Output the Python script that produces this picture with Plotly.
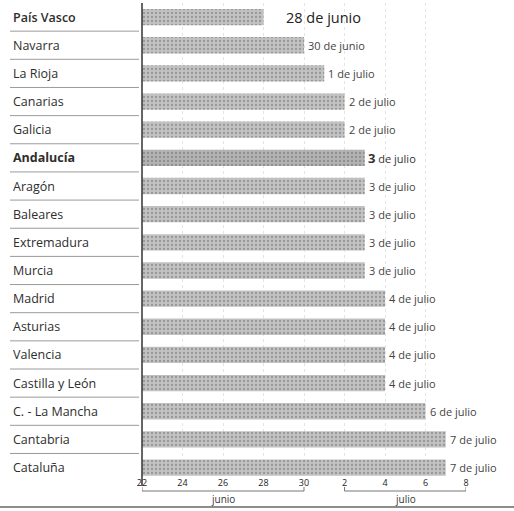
import plotly.graph_objects as go
import pandas as pd

regions = ["País Vasco", "Navarra", "La Rioja", "Canarias", "Galicia", "Andalucía",
           "Aragón", "Baleares", "Extremadura", "Murcia", "Madrid", "Asturias",
           "Valencia", "Castilla y León", "C. - La Mancha", "Cantabria", "Cataluña"]
end_dates = ["2020-06-28", "2020-06-30", "2020-07-01", "2020-07-02", "2020-07-02",
             "2020-07-03", "2020-07-03", "2020-07-03", "2020-07-03", "2020-07-03",
             "2020-07-04", "2020-07-04", "2020-07-04", "2020-07-04",
             "2020-07-06", "2020-07-07", "2020-07-07"]
date_labels = ["28 de junio", "30 de junio", "1 de julio", "2 de julio", "2 de julio",
               "3 de julio", "3 de julio", "3 de julio", "3 de julio", "3 de julio",
               "4 de julio", "4 de julio", "4 de julio", "4 de julio",
               "6 de julio", "7 de julio", "7 de julio"]
start_date = "2020-06-22"
tick_days = [0, 2, 4, 6, 8, 10, 12, 14, 16]
tick_labels = ["22", "24", "26", "28", "30", "2", "4", "6", "8"]
month_names = ["junio", "julio"]
month_spans = [(0, 8), (10, 16)]

days = [(pd.Timestamp(d) - pd.Timestamp(start_date)).days for d in end_dates]

W, H = 514, 511
L, R, T, B = 142, 48, 3, 35
PW = W - L - R
PH = H - T - B
Y0, Y1 = len(regions) - 0.7, -0.5


def px_x(p):
    return (p - L) / PW


def px_y(p):
    return (H - B - p) / PH


def row_paper(r):
    return (Y0 - r) / (Y0 - Y1)


colors = ["#b3b3b3" if r == "Andalucía" else "#c2c2c2" for r in regions]

fig = go.Figure()
fig.add_trace(go.Bar(
    x=days, y=list(range(len(regions))), orientation="h", width=0.58,
    marker=dict(color=colors, line=dict(width=0),
                pattern=dict(shape=".", fgcolor="#8e8e8e", fgopacity=0.35,
                             size=4, solidity=0.25, fillmode="overlay")),
    hoverinfo="skip",
))

annotations = []
for i, (r, d, lab) in enumerate(zip(regions, days, date_labels)):
    weight = "bold" if r == "Andalucía" else (600 if r == "País Vasco" else "normal")
    annotations.append(dict(
        x=px_x(11), xref="paper", y=i, yref="y", text=r, showarrow=False,
        xanchor="left", yanchor="middle",
        font=dict(family="Open Sans", size=12.5, color="#2e2e2e", weight=weight)))
    if i == 0:
        txt, size, shift, col = lab, 14.5, 20, "#222"
    elif r == "Andalucía":
        parts = lab.split(" ", 1)
        txt, size, shift, col = "<b style='font-size:13px'>" + parts[0] + "</b> " + parts[1], 11, 1, "#333"
    else:
        txt, size, shift, col = lab, 11, 2, "#444"
    annotations.append(dict(
        x=d, xref="x", y=i, yref="y", text=txt, showarrow=False,
        xanchor="left", yanchor="middle", xshift=shift,
        font=dict(family="Open Sans", size=size, color=col)))

for name, (a, b) in zip(month_names, month_spans):
    annotations.append(dict(
        x=(a + b) / 2, xref="x", y=px_y(499), yref="paper", text=name,
        showarrow=False, xanchor="center", yanchor="middle",
        font=dict(family="Open Sans", size=10, color="#333")))

shapes = []
for i in range(len(regions) - 1):
    yb = row_paper(i + 0.5)
    shapes.append(dict(type="line", xref="paper", yref="paper",
                       x0=px_x(10), x1=px_x(139), y0=yb, y1=yb,
                       line=dict(color="#9a9a9a", width=1)))
shapes.append(dict(type="line", xref="paper", yref="paper",
                   x0=0, x1=0, y0=px_y(486), y1=1.0,
                   line=dict(color="#333", width=1.5)))
for a, b in month_spans:
    yb = px_y(491)
    shapes.append(dict(type="line", xref="x", yref="paper", x0=a, x1=b, y0=yb, y1=yb,
                       line=dict(color="#777", width=1)))
    for xv in (a, b):
        shapes.append(dict(type="line", xref="x", yref="paper", x0=xv, x1=xv,
                           y0=yb, y1=px_y(487), line=dict(color="#777", width=1)))
shapes.append(dict(type="line", xref="paper", yref="paper",
                   x0=px_x(0), x1=px_x(514), y0=px_y(507), y1=px_y(507),
                   line=dict(color="#666", width=1.5)))

fig.update_layout(
    width=W, height=H,
    margin=dict(l=L, r=R, t=T, b=B, pad=0),
    paper_bgcolor="white", plot_bgcolor="white",
    showlegend=False, bargap=0.4,
    annotations=annotations, shapes=shapes,
    xaxis=dict(range=[0, 16], tickvals=tick_days, ticktext=tick_labels,
               showgrid=True, gridcolor="#e4e4e4", griddash="dot", gridwidth=1,
               zeroline=False, showline=False, ticks="",
               tickfont=dict(family="Open Sans", size=9, color="#222")),
    yaxis=dict(range=[Y0, Y1], showticklabels=False, showgrid=False,
               zeroline=False, showline=False, ticks=""),
)

fig.write_html("out.html", config={"displayModeBar": False},
               post_script="document.body.style.margin='0';document.body.style.overflow='hidden';")
